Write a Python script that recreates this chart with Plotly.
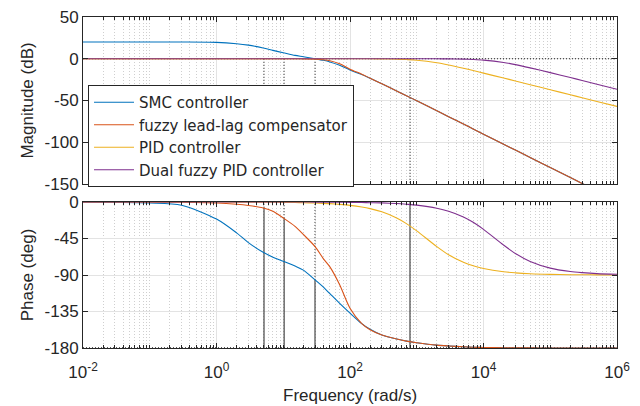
import plotly.graph_objects as go

# Bode data (frequency in rad/s)
freq = [0.01, 0.03, 0.1, 0.3, 1, 2, 3, 5, 7, 10, 15, 20, 30, 40, 50, 70, 100, 150, 200, 300,
        500, 700, 1000, 2000, 3000, 5000, 7000, 1e4, 2e4, 3e4, 5e4, 1e5, 2e5, 3e5, 5e5, 1e6]

smc_mag = [20, 20, 20, 20, 19.6, 18, 16.3, 12.8, 10, 7.2, 4, 2.4, 0, -1.9, -3.8, -7.8, -13.5, -19, -23.5, -30,
           -38.5, -44.3, -50.3, -62.3, -69.4, -78.2, -84.1, -90.3, -102.3, -109.4, -118.2, -130.3, -142.3, -149.4, -158.2, -170.3]
flc_mag = [0, 0, 0, 0, 0, 0, 0, 0, 0, 0, -0.05, -0.1, -0.4, -1.2, -2.3, -6, -12.5, -18.5, -23.3, -30,
           -38.5, -44.3, -50.3, -62.3, -69.4, -78.2, -84.1, -90.3, -102.3, -109.4, -118.2, -130.3, -142.3, -149.4, -158.2, -170.3]
pid_mag = [0, 0, 0, 0, 0, 0, 0, 0, 0, 0, 0, 0, 0, 0, 0, 0, -0.02, -0.05, -0.09, -0.2,
           -0.53, -0.97, -1.74, -4.8, -7.5, -11.4, -14.1, -17.2, -23.1, -26.6, -31.1, -37.1, -43.1, -46.6, -51.1, -57.1]
dfp_mag = [0, 0, 0, 0, 0, 0, 0, 0, 0, 0, 0, 0, 0, 0, 0, 0, 0, 0, 0, 0,
           0, 0, -0.02, -0.08, -0.17, -0.46, -0.86, -1.6, -4.4, -7.0, -10.9, -16.6, -22.5, -26.0, -30.5, -36.5]

smc_ph = [-0.2, -0.5, -1.2, -4, -21, -38, -50, -62, -68, -73, -79, -84, -96, -105, -113, -125, -137, -150, -157, -164,
          -169, -171.5, -173.5, -176.5, -177.5, -178.5, -179, -179.3, -179.6, -179.8, -179.9, -180, -180, -180, -180, -180]
flc_ph = [0, 0, -0.1, -0.3, -1.2, -2.8, -4.3, -7.3, -11.5, -19.7, -30, -40, -55, -70, -80, -102, -131, -150, -157.5, -164,
          -169, -171.5, -173.5, -176.5, -177.5, -178.5, -179, -179.3, -179.6, -179.8, -179.9, -180, -180, -180, -180, -180]
pid_ph = [0, 0, 0, 0, -0.04, -0.08, -0.12, -0.2, -0.29, -0.41, -0.6, -0.8, -1.2, -1.6, -2.0, -2.9, -4.1, -6.1, -8.1, -12.1,
          -19.7, -26.6, -35.5, -55.0, -65.0, -74.4, -78.7, -82.0, -86.0, -87.3, -88.4, -89.2, -89.6, -89.7, -89.8, -89.9]
dfp_ph = [0, 0, 0, 0, 0, 0, 0, 0, 0, 0, 0, 0, -0.1, -0.15, -0.19, -0.27, -0.4, -0.6, -0.8, -1.1,
          -1.9, -2.7, -3.8, -7.6, -11.3, -18.4, -25.0, -33.7, -53.1, -63.4, -73.3, -81.5, -85.7, -87.1, -88.3, -89.1]

names = ['SMC controller', 'fuzzy lead-lag compensator', 'PID controller', 'Dual fuzzy PID controller']
colors = ['#0072BD', '#D95319', '#EDB120', '#7E2F8E']

# margin marker lines (crossover frequencies and phase where the solid part ends)
cross_freq = [5.15, 10.3, 29.9, 792]
cross_phase = [-7, -20, -96, 0]
mag_ref = 0
phase_ref = -180
freq_lim = [0.01, 1e6]
mag_lim = [-150, 50]
phase_lim = [-180, 0]

freq_ticks = [0.01, 1, 100, 1e4, 1e6]
freq_labels = ['10<sup>-2</sup>', '10<sup>0</sup>', '10<sup>2</sup>', '10<sup>4</sup>', '10<sup>6</sup>']
mag_ticks = [50, 0, -50, -100, -150]
phase_ticks = [0, -45, -90, -135, -180]

fig = go.Figure()

mags = [smc_mag, flc_mag, pid_mag, dfp_mag]
phs = [smc_ph, flc_ph, pid_ph, dfp_ph]

# margin lines first so curves sit on top
for f in cross_freq:
    fig.add_trace(go.Scatter(x=[f, f], y=[mag_ref, mag_lim[0]], mode='lines', showlegend=False, hoverinfo='skip',
                             line=dict(color='#222222', width=1, dash='1px,2px'), xaxis='x', yaxis='y'))
for f, p in zip(cross_freq, cross_phase):
    fig.add_trace(go.Scatter(x=[f, f], y=[phase_ref, p], mode='lines', showlegend=False, hoverinfo='skip',
                             line=dict(color='#222222', width=1), xaxis='x2', yaxis='y2'))
    if p < phase_lim[1]:
        fig.add_trace(go.Scatter(x=[f, f], y=[p, phase_lim[1]], mode='lines', showlegend=False, hoverinfo='skip',
                                 line=dict(color='#222222', width=1, dash='1px,2px'), xaxis='x2', yaxis='y2'))
fig.add_trace(go.Scatter(x=freq_lim, y=[mag_ref, mag_ref], mode='lines', showlegend=False, hoverinfo='skip',
                         line=dict(color='#222222', width=1, dash='1px,2px'), xaxis='x', yaxis='y'))
fig.add_trace(go.Scatter(x=freq_lim, y=[phase_ref, phase_ref], mode='lines', showlegend=False, hoverinfo='skip',
                         line=dict(color='#222222', width=1.5, dash='1px,2px'), xaxis='x2', yaxis='y2'))

for nm, mg, ph, col in zip(names, mags, phs, colors):
    fig.add_trace(go.Scatter(x=freq, y=mg, name=nm, mode='lines',
                             line=dict(color=col, width=1.1, shape='spline', smoothing=0.8), xaxis='x', yaxis='y'))
    fig.add_trace(go.Scatter(x=freq, y=ph, name=nm, mode='lines', showlegend=False,
                             line=dict(color=col, width=1.1, shape='spline', smoothing=0.8), xaxis='x2', yaxis='y2'))

font = dict(family='Liberation Sans, Arial, sans-serif', size=17, color='#262626')
title_font = dict(family='Liberation Sans, Arial, sans-serif', size=17, color='#262626')

xcommon = dict(type='log', range=[-2, 6], tickvals=freq_ticks, ticktext=freq_labels, tickfont=font,
               showline=True, linecolor='#262626', linewidth=1, mirror='ticks',
               ticks='inside', ticklen=5, tickcolor='#262626', automargin=False,
               ticklabeloverflow='allow',
               showgrid=True, gridcolor='#e3e3e3', gridwidth=1, zeroline=False,
               minor=dict(dtick='D1', showgrid=True, gridcolor='#cfcfcf', griddash='1px,2px',
                          ticks='inside', ticklen=3, tickcolor='#262626'))
ycommon = dict(showline=True, linecolor='#262626', linewidth=1, mirror='ticks',
               ticks='inside', ticklen=5, tickcolor='#262626', automargin=False,
               ticklabeloverflow='allow',
               showgrid=True, gridcolor='#e3e3e3', zeroline=False, tickfont=font)

# page body has an 8px margin, so the figure is offset by 8px inside the window
fig.update_layout(
    width=632, height=398,
    margin=dict(l=75, r=23, t=9, b=58),
    paper_bgcolor='white', plot_bgcolor='white',
    font=font,
    showlegend=True,
    xaxis=dict(xcommon, domain=[0, 1], anchor='y', showticklabels=False, matches='x2'),
    yaxis=dict(ycommon, domain=[0.4955, 1], range=mag_lim, tickvals=mag_ticks,
               ticktext=[str(v) for v in mag_ticks],
               title=dict(text='Magnitude (dB)', font=title_font, standoff=6)),
    xaxis2=dict(xcommon, domain=[0, 1], anchor='y2', ticklabelstandoff=9),
    yaxis2=dict(ycommon, domain=[0, 0.441], range=phase_lim, tickvals=phase_ticks,
                ticktext=[str(v) for v in phase_ticks],
                title=dict(text='Phase (deg)', font=title_font, standoff=6)),
    legend=dict(x=0.0094, y=0.7946, xanchor='left', yanchor='top',
                bgcolor='white', bordercolor='#262626', borderwidth=1, itemwidth=40,
                font=dict(family='DejaVu Sans, Liberation Sans, sans-serif', size=15, color='#262626'),
                tracegroupgap=0),
)

# x-axis title placed below the tick labels
fig.add_annotation(text='Frequency (rad/s)', xref='paper', yref='paper', x=0.5, y=-0.145,
                   xanchor='center', yanchor='middle', showarrow=False, font=title_font)

fig.write_html("out.html")
